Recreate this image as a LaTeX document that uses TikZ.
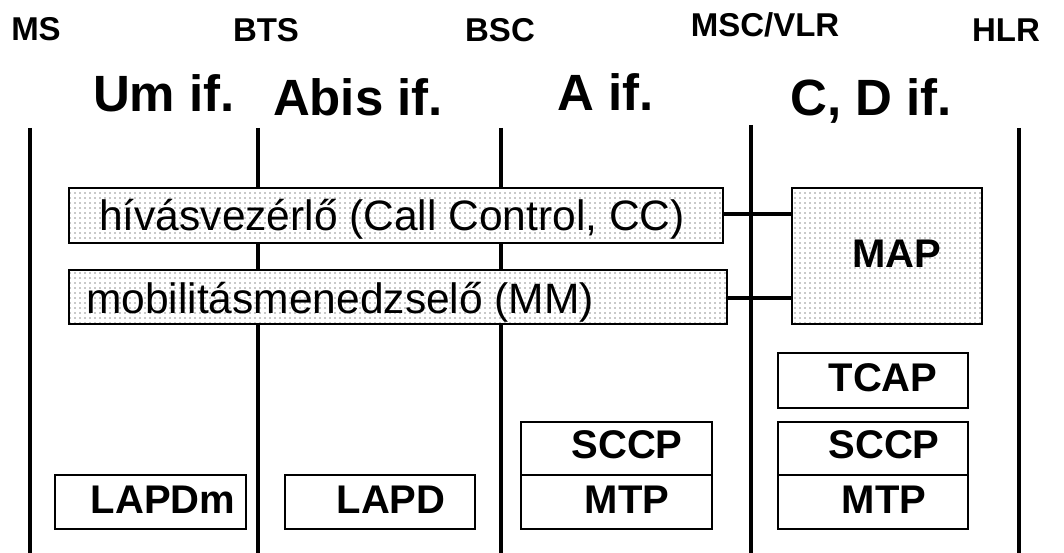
\documentclass[tikz,border=0pt]{standalone}
\usepackage{fontspec}
\setmainfont{Liberation Sans}
\usetikzlibrary{patterns.meta}
\begin{document}
\begin{tikzpicture}[x=1pt,y=-1pt,
  sep/.style={line width=4.2pt},
  conn/.style={line width=4.2pt},
  box/.style={draw, line width=1.8pt, fill=white, inner sep=0pt},
  dotbox/.style={box, preaction={fill=white}, pattern={Dots[distance=5pt,radius=0.85pt]}, pattern color=gray!85},
  entity/.style={font=\fontsize{33}{33}\selectfont\bfseries, anchor=base, inner sep=0pt},
  iface/.style={font=\fontsize{51}{51}\selectfont\bfseries, anchor=base, inner sep=0pt},
  proto/.style={font=\fontsize{40}{40}\selectfont\bfseries, anchor=base, inner sep=0pt},
  func/.style={font=\fontsize{42.5}{42.5}\selectfont, anchor=base west, inner sep=0pt}]
\useasboundingbox (0,0) rectangle (1064,553);
% entity labels
\node[entity] (ms)  at (36,41)  {MS};
\node[entity] (bts) at (266,42) {BTS};
\node[entity] (bsc) at (500,42) {BSC};
\node[entity] (msc) at (765,37) {MSC/VLR};
\node[entity] (hlr) at (1006,42) {HLR};
% interface labels
\node[iface] (um)   at (164,112) {Um if.};
\node[iface] (abis) at (358,116) {Abis if.};
\node[iface] (aif)  at (606,111) {A if.};
\node[iface] (cd)   at (871,116) {C, D if.};
% separators
\coordinate (l1t) at (30,128);   \coordinate (l1b) at (30,553);
\coordinate (l2t) at (258,128);  \coordinate (l2b) at (258,553);
\coordinate (l3t) at (501,128);  \coordinate (l3b) at (501,553);
\coordinate (l4t) at (751,125);  \coordinate (l4b) at (751,553);
\coordinate (l5t) at (1019,128); \coordinate (l5b) at (1019,553);
\draw[sep] (l1t) -- (l1b);
\draw[sep] (l2t) -- (l2b);
\draw[sep] (l3t) -- (l3b);
\draw[sep] (l4t) -- (l4b);
\draw[sep] (l5t) -- (l5b);
% boxes
\node[dotbox, minimum width=654pt, minimum height=55pt] (cc)  at (396,215.5) {};
\node[dotbox, minimum width=658pt, minimum height=54pt] (mm)  at (398,297) {};
\node[dotbox, minimum width=190pt, minimum height=136pt] (map) at (887,256) {};
\node[box, minimum width=190pt, minimum height=55pt] (tcap)  at (873,380.5) {};
\node[box, minimum width=190pt, minimum height=53pt] (sccpr) at (873,448.5) {};
\node[box, minimum width=190pt, minimum height=54pt] (mtpr)  at (873,502) {};
\node[box, minimum width=191pt, minimum height=53pt] (sccpl) at (616.5,448.5) {};
\node[box, minimum width=191pt, minimum height=54pt] (mtpl)  at (616.5,502) {};
\node[box, minimum width=191pt, minimum height=54pt] (lapdm) at (150.5,502) {};
\node[box, minimum width=190pt, minimum height=54pt] (lapd)  at (380,502) {};
% texts
\node[func] (cct) at (99,230) {hívásvezérlő (Call Control, CC)};
\node[func] (mmt) at (86,313) {mobilitásmenedzselő (MM)};
\node[proto] (mapt)   at (897,267) {MAP};
\node[proto] (tcapt)  at (883,391) {TCAP};
\node[proto] (sccprt) at (884,458) {SCCP};
\node[proto] (mtprt)  at (884,513) {MTP};
\node[proto] (sccplt) at (627,458) {SCCP};
\node[proto] (mtplt)  at (627,513) {MTP};
\node[proto] (lapdmt) at (163,513) {LAPDm};
\node[proto] (lapdt)  at (391,513) {LAPD};
% connectors
\draw[conn] ([yshift=1.5pt]cc.east) -- ([yshift=1.5pt]cc.east -| map.west);
\draw[conn] ([yshift=-1pt]mm.east) -- ([yshift=-1pt]mm.east -| map.west);
\end{tikzpicture}
\end{document}
